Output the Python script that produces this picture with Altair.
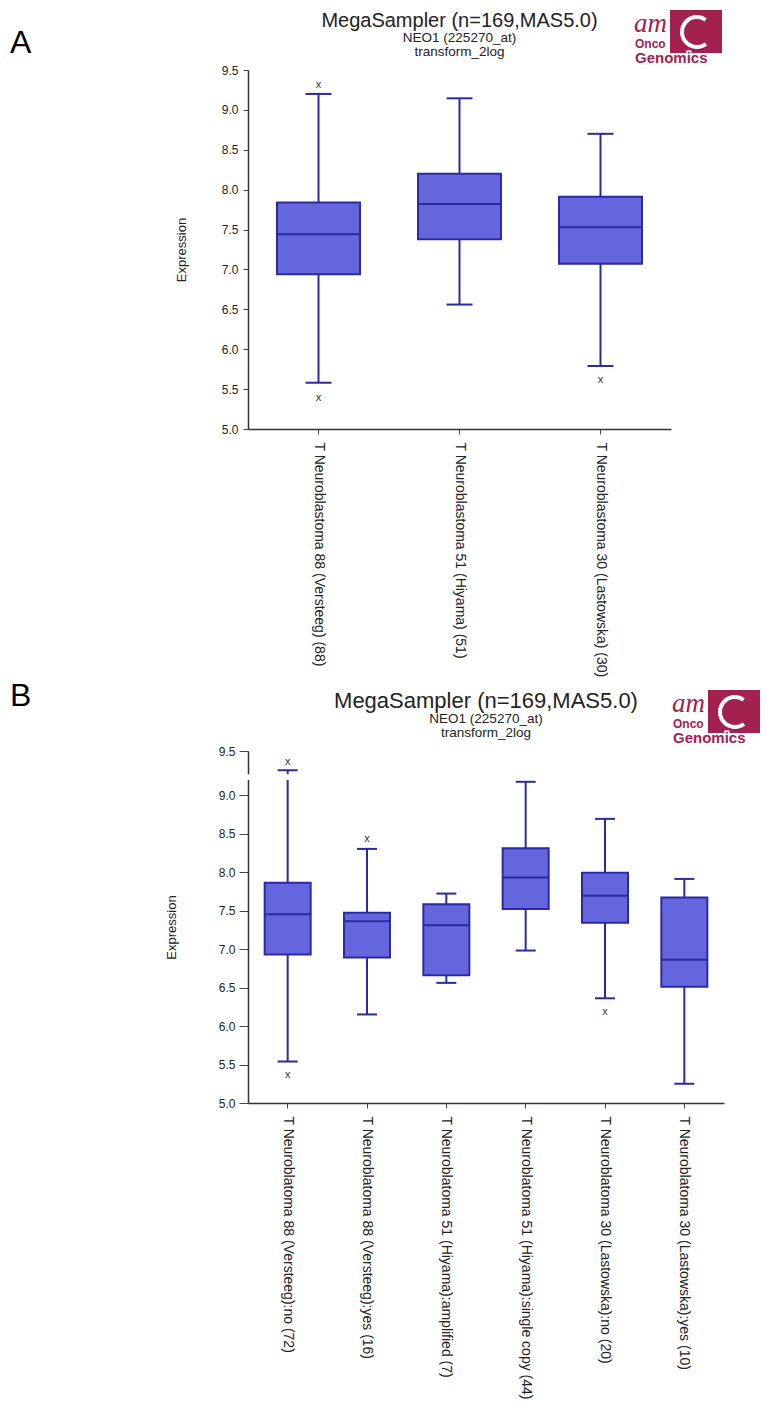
import altair as alt
import pandas as pd

# ---------------- data ----------------
A_categories = ["T Neuroblastoma 88 (Versteeg) (88)",
                "T Neuroblastoma 51 (Hiyama) (51)",
                "T Neuroblastoma 30 (Lastowska) (30)"]
A_lower = [5.58, 6.56, 5.79]
A_q1 = [6.94, 7.38, 7.07]
A_median = [7.44, 7.82, 7.53]
A_q3 = [7.84, 8.20, 7.91]
A_upper = [9.20, 9.145, 8.70]
A_outlier_cat = [A_categories[0], A_categories[0], A_categories[2]]
A_outlier_val = [9.31, 5.39, 5.61]

B_categories = ["T Neuroblatoma 88 (Versteeg):no (72)",
                "T Neuroblatoma 88 (Versteeg):yes (16)",
                "T Neuroblatoma 51 (Hiyama):amplified (7)",
                "T Neuroblatoma 51 (Hiyama):single copy (44)",
                "T Neuroblatoma 30 (Lastowska):no (20)",
                "T Neuroblatoma 30 (Lastowska):yes (10)"]
B_lower = [5.54, 6.15, 6.56, 6.98, 6.36, 5.25]
B_q1 = [6.93, 6.89, 6.66, 7.52, 7.34, 6.51]
B_median = [7.45, 7.36, 7.31, 7.93, 7.69, 6.86]
B_q3 = [7.86, 7.47, 7.58, 8.31, 7.99, 7.67]
B_upper = [9.28, 8.30, 7.72, 9.15, 8.69, 7.91]
B_outlier_cat = [B_categories[0], B_categories[0], B_categories[1], B_categories[4]]
B_outlier_val = [9.38, 5.36, 8.43, 6.18]
B_axis_break = [9.17, 9.235]

y_ticks = [5.0, 5.5, 6.0, 6.5, 7.0, 7.5, 8.0, 8.5, 9.0, 9.5]
title_lines = ["MegaSampler (n=169,MAS5.0)", "NEO1 (225270_at)", "transform_2log"]
logo_words = ["am", "Onco", "Genomics"]
panel_letters = ["A", "B"]

# ---------------- style ----------------
FONT = "Liberation Sans"
FILL = "#6565dd"
LINE = "#2a2aa3"
INK = "#222222"
CRIMSON = "#a3214f"


def one(v):
    return pd.DataFrame({"t": [v]})


def logo(ox, oy, s):
    layers = []
    layers.append(alt.Chart(one(0)).mark_rect(fill=CRIMSON).encode(
        x=alt.value(ox + 37 * s), x2=alt.value(ox + 89 * s),
        y=alt.value(oy), y2=alt.value(oy + 43 * s)))
    layers.append(alt.Chart(one(0)).mark_arc(
        fill="white", radius=17 * s, radius2=13 * s, theta=2.5, theta2=6.9).encode(
        x=alt.value(ox + 64 * s), y=alt.value(oy + 22 * s)))
    layers.append(alt.Chart(one(logo_words[0])).mark_text(
        font="Liberation Serif", fontStyle="italic", fontSize=27 * s, color=CRIMSON,
        align="left", baseline="alphabetic").encode(
        text="t:N", x=alt.value(ox + 1), y=alt.value(oy + 22 * s)))
    layers.append(alt.Chart(one(logo_words[1])).mark_text(
        font=FONT, fontWeight="bold", fontSize=12 * s, color=CRIMSON,
        align="left", baseline="alphabetic").encode(
        text="t:N", x=alt.value(ox + 2), y=alt.value(oy + 38 * s)))
    layers.append(alt.Chart(one(logo_words[2])).mark_text(
        font=FONT, fontWeight="bold", fontSize=15 * s, color="white",
        stroke="white", strokeWidth=3, align="left", baseline="alphabetic").encode(
        text="t:N", x=alt.value(ox + 2), y=alt.value(oy + 53 * s)))
    layers.append(alt.Chart(one(logo_words[2])).mark_text(
        font=FONT, fontWeight="bold", fontSize=15 * s, color=CRIMSON,
        align="left", baseline="alphabetic").encode(
        text="t:N", x=alt.value(ox + 2), y=alt.value(oy + 53 * s)))
    return layers


def panel(cats, lower, q1, med, q3, upper, ocat, oval, *, width, height, yscale,
          box, cap, ytick, ylabpad, ytitle_x, letter, letter_y, title_size,
          title_ys, logo_pos, brk=None):
    df = pd.DataFrame({"cat": cats, "lower": lower, "q1": q1, "median": med,
                       "q3": q3, "upper": upper})
    xenc = alt.X("cat:N", sort=cats,
                 scale=alt.Scale(paddingInner=0, paddingOuter=0),
                 axis=alt.Axis(title=None, labelAngle=90, labelAlign="left",
                               labelBaseline="middle", labelFontSize=14,
                               labelLimit=600, tickSize=5, labelPadding=8,
                               domainWidth=1.5))
    yaxis = alt.Axis(values=y_ticks, format=".1f", labelFontSize=12,
                     tickSize=ytick, labelPadding=ylabpad, title="Expression",
                     titleFontSize=13, titleFontWeight="normal",
                     titleX=ytitle_x, titleY=height / 2, titleAngle=-90,
                     titleAlign="center", titleBaseline="middle",
                     domainWidth=1.5)

    def Y(f):
        return alt.Y(f"{f}:Q", scale=yscale, axis=yaxis)

    base = alt.Chart(df)
    layers = [
        base.mark_rule(color=LINE, strokeWidth=2).encode(x=xenc, y=Y("lower"), y2="q1"),
        base.mark_rule(color=LINE, strokeWidth=2).encode(x=xenc, y=Y("q3"), y2="upper"),
        base.mark_bar(size=box, fill=FILL, stroke=LINE, strokeWidth=2, opacity=1).encode(
            x=xenc, y=Y("q1"), y2="q3"),
        base.mark_tick(size=box, thickness=2, color=LINE, opacity=1).encode(x=xenc, y=Y("median")),
        base.mark_tick(size=cap, thickness=2, color=LINE, opacity=1).encode(x=xenc, y=Y("lower")),
        base.mark_tick(size=cap, thickness=2, color=LINE, opacity=1).encode(x=xenc, y=Y("upper")),
    ]
    odf = pd.DataFrame({"cat": ocat, "val": oval})
    layers.append(alt.Chart(odf).mark_text(text="x", fontSize=11, color="#333333",
                                           baseline="middle", font=FONT).encode(
        x=xenc, y=Y("val")))
    if brk is not None:
        bdf = pd.DataFrame({"lo": [brk[0]], "hi": [brk[1]]})
        layers.append(alt.Chart(bdf).mark_rect(fill="white").encode(
            x=alt.value(-4), x2=alt.value(width), y=Y("lo"), y2="hi"))
    # titles
    sizes = [title_size, 13.5, 13.5]
    for line, ty, fs in zip(title_lines, title_ys, sizes):
        layers.append(alt.Chart(one(line)).mark_text(
            font=FONT, fontSize=fs, color=INK, align="center",
            baseline="alphabetic").encode(
            text="t:N", x=alt.value(width / 2), y=alt.value(ty)))
    layers.append(alt.Chart(one(letter)).mark_text(
        font=FONT, fontSize=32, color="black", align="left",
        baseline="alphabetic").encode(
        text="t:N", x=alt.value(-238), y=alt.value(letter_y)))
    layers += logo(*logo_pos)
    return alt.layer(*layers).properties(width=width, height=height)


panel_a = panel(A_categories, A_lower, A_q1, A_median, A_q3, A_upper,
                A_outlier_cat, A_outlier_val,
                width=423, height=359,
                yscale=alt.Scale(domain=[5.0, 9.5], nice=False, zero=False),
                box=83, cap=26, ytick=5, ylabpad=5, ytitle_x=-67,
                letter=panel_letters[0], letter_y=-17, title_size=20,
                title_ys=[-43, -28, -14], logo_pos=(385, -60, 1.0))

panel_b = panel(B_categories, B_lower, B_q1, B_median, B_q3, B_upper,
                B_outlier_cat, B_outlier_val,
                width=476, height=352,
                yscale=alt.Scale(domain=[5.0, 9.0, 9.5], range=[352, 44, 0],
                                 nice=False, zero=False),
                box=46, cap=20, ytick=9, ylabpad=4, ytitle_x=-77,
                letter=panel_letters[1], letter_y=-45, title_size=22,
                title_ys=[-43, -28, -14], logo_pos=(423, -61, 1.0),
                brk=B_axis_break)

chart = alt.vconcat(panel_a, panel_b, spacing=3).properties(
    padding={"left": 2, "top": 2, "right": 0, "bottom": 0}
).configure_view(stroke=None).configure_axis(
    grid=False, labelFont=FONT, titleFont=FONT, domainColor="#333333",
    tickColor="#444444", labelColor=INK, titleColor=INK
).configure_text(font=FONT)

chart.save("out.html", embed_options={"renderer": "svg", "actions": False})
